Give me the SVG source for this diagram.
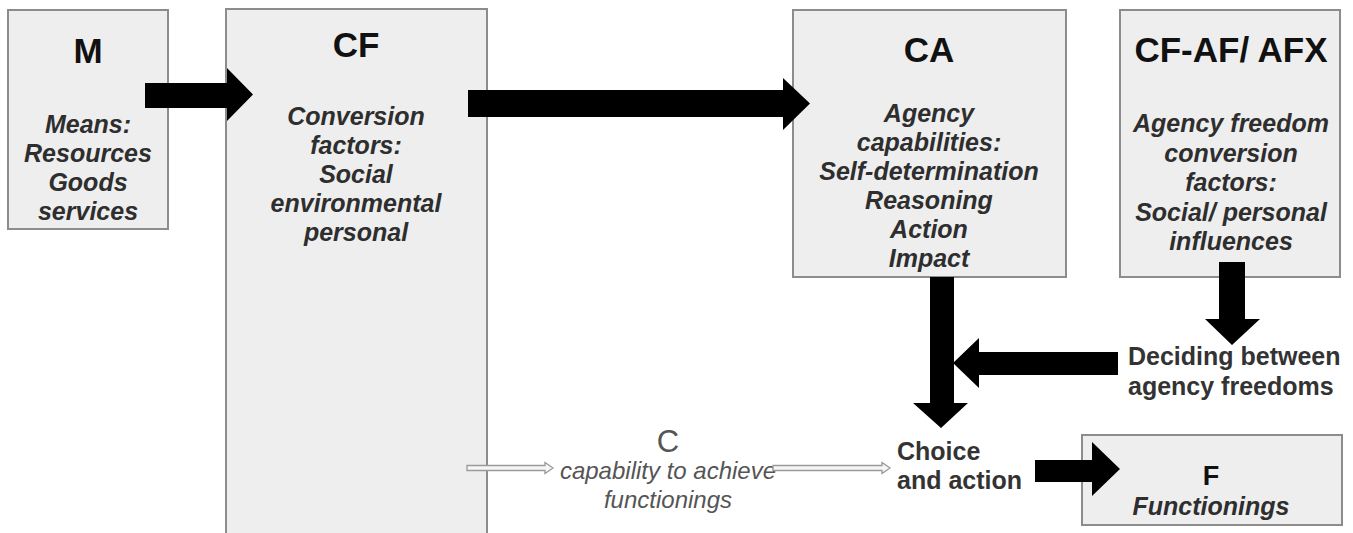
<svg xmlns="http://www.w3.org/2000/svg" width="1353" height="533" viewBox="0 0 1353 533">
<style>
.box{fill:#eeeeee;stroke:#8c8c8c;stroke-width:2}
.t{font-family:"Liberation Sans",Arial,sans-serif;font-weight:bold;fill:#111;text-anchor:middle}
.ti{font-size:35px}
.bi{font-family:"Liberation Sans",Arial,sans-serif;font-weight:bold;font-style:italic;fill:#2e2e2e;text-anchor:middle;font-size:25px}
.lb{font-family:"Liberation Sans",Arial,sans-serif;font-weight:bold;fill:#333;font-size:25px}
.g{font-family:"Liberation Sans",Arial,sans-serif;fill:#555;text-anchor:middle}
.ar{fill:#000}
.ho{fill:#f6f6f6;stroke:#9a9a9a;stroke-width:1.3}
</style>
<rect width="1353" height="533" fill="#fff"/>
<g id="node-M">
<rect class="box" x="8" y="10" width="160" height="219"/>
<text class="t ti" x="88" y="63">M</text>
<text class="bi" x="88" y="133">Means:</text>
<text class="bi" x="88" y="162">Resources</text>
<text class="bi" x="88" y="191">Goods</text>
<text class="bi" x="88" y="220">services</text>
</g>
<g id="node-CF">
<rect class="box" x="226" y="9" width="261" height="540"/>
<text class="t ti" x="356" y="57">CF</text>
<text class="bi" x="356" y="125">Conversion</text>
<text class="bi" x="356" y="154">factors:</text>
<text class="bi" x="356" y="183">Social</text>
<text class="bi" x="356" y="212">environmental</text>
<text class="bi" x="356" y="241">personal</text>
</g>
<g id="node-CA">
<rect class="box" x="793" y="10" width="273" height="267"/>
<text class="t ti" x="929" y="62">CA</text>
<text class="bi" x="929" y="122">Agency</text>
<text class="bi" x="929" y="151">capabilities:</text>
<text class="bi" x="929" y="180">Self-determination</text>
<text class="bi" x="929" y="209">Reasoning</text>
<text class="bi" x="929" y="238">Action</text>
<text class="bi" x="929" y="267">Impact</text>
</g>
<g id="node-CFAF">
<rect class="box" x="1120" y="10" width="220" height="267"/>
<text class="t ti" x="1231" y="62">CF-AF/ AFX</text>
<text class="bi" x="1231" y="132">Agency freedom</text>
<text class="bi" x="1231" y="162">conversion</text>
<text class="bi" x="1231" y="191">factors:</text>
<text class="bi" x="1231" y="221">Social/ personal</text>
<text class="bi" x="1231" y="250">influences</text>
</g>
<g id="node-F">
<rect class="box" x="1082" y="435" width="260" height="90"/>
<text class="t" x="1211" y="485" style="font-size:27px">F</text>
<text class="bi" x="1211" y="515">Functionings</text>
</g>
<g id="node-deciding">
<text class="lb" x="1128" y="365">Deciding between</text>
<text class="lb" x="1128" y="395">agency freedoms</text>
</g>
<g id="node-choice">
<text class="lb" x="897" y="460">Choice</text>
<text class="lb" x="897" y="489">and action</text>
</g>
<g id="node-C">
<text class="g" x="668" y="452" style="font-size:31px">C</text>
<text class="g" x="668" y="479" style="font-size:24px;font-style:italic">capability to achieve</text>
<text class="g" x="668" y="508" style="font-size:24px;font-style:italic">functionings</text>
</g>
<g id="connectors">
<polygon class="ar" points="145,83 227,83 227,68 253,94.5 227,121 227,108 145,108"/>
<polygon class="ar" points="468,90 783,90 783,78 810,103.5 783,130 783,117 468,117"/>
<polygon class="ar" points="930,277 954,277 954,403 968,403 941,428 913,403 930,403"/>
<polygon class="ar" points="1118,352 979,352 979,338 953,363 979,388 979,375 1118,375"/>
<polygon class="ar" points="1219,262 1245,262 1245,319 1260,319 1232,345 1205,319 1219,319"/>
<polygon class="ar" points="1035,460 1092,460 1092,442 1120,469 1092,496 1092,482 1035,482"/>
<polygon class="ho" points="467,465.5 545,465.5 545,462.5 553,468 545,473.5 545,470.5 467,470.5"/>
<polygon class="ho" points="773,465.5 882,465.5 882,462.5 890,468 882,473.5 882,470.5 773,470.5"/>
</g>
</svg>
